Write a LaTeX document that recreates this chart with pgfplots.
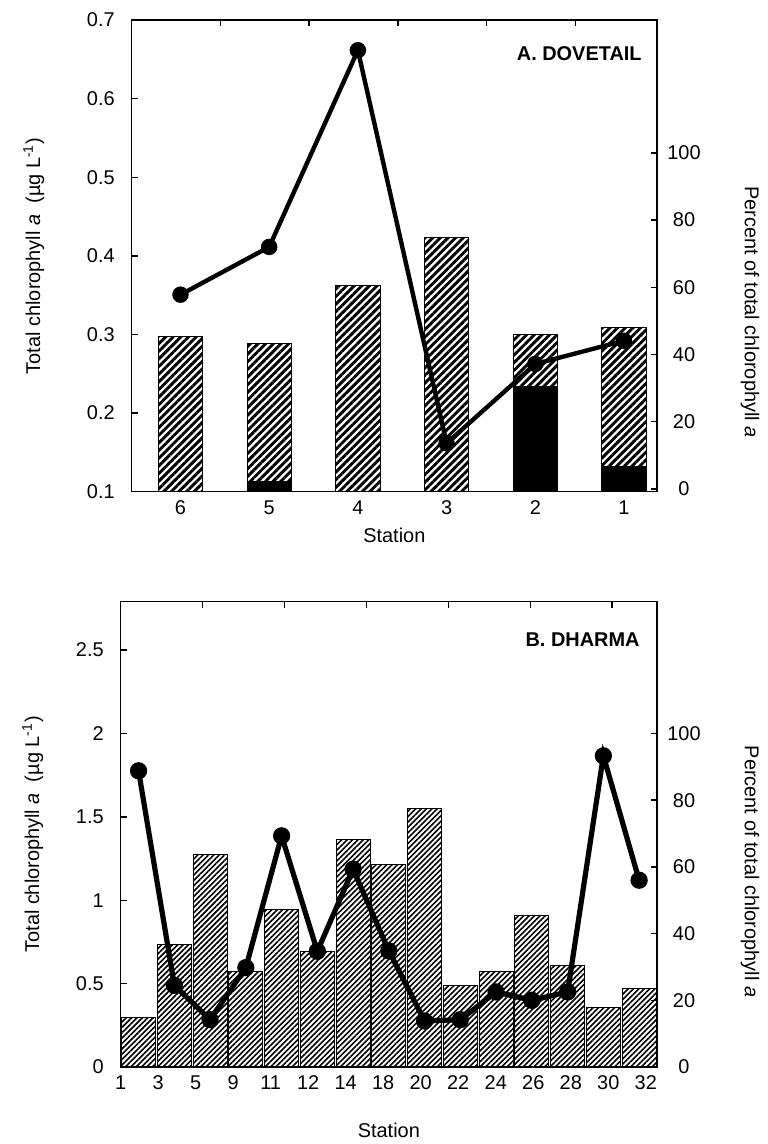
\documentclass[border=0pt]{standalone}
\usepackage{fontspec}
\setmainfont{Liberation Sans}
\usepackage{pgfplots}
\pgfplotsset{compat=1.18}
\usetikzlibrary{patterns.meta}
\pgfplotsset{
  every axis/.append style={
    font=\fontsize{10}{12}\selectfont,
    scale only axis,
    /pgf/number format/assume math mode=true,
    tick align=inside,
    major tick length=3bp,
    axis line style={-, line width=0.7bp},
    every tick/.style={black, line width=0.7bp},
  },
}
\begin{document}
\begin{tikzpicture}
\path[use as bounding box] (0,0) rectangle (384bp,-572bp);

% ---------- Panel A: left axis (bars)
\begin{axis}[
  at={(65.85bp,-245.85bp)}, anchor=south west,
  width=262.65bp, height=235.85bp,
  xmin=0, xmax=5.922, ymin=0.1, ymax=0.7,
  xtick={0.55,1.55,2.55,3.55,4.55,5.55},
  xticklabels={6,5,4,3,2,1},
  xtick style={draw=none},
  xticklabel style={yshift=-0.8bp},
  ytick={0.1,0.2,0.3,0.4,0.5,0.6,0.7},
  ytick pos=left,
  yticklabel style={xshift=-5bp},
  xlabel={Station},
  every axis x label/.style={at={(rel axis cs:0.5,0)}, yshift=-21.6bp, anchor=center},
  ylabel={Total chlorophyll \textit{a}\ \ (µg L\textsuperscript{-1})},
  every axis y label/.style={at={(rel axis cs:0,0.5)}, xshift=-49bp, rotate=90, anchor=center},
]
\addplot[ybar, bar width=0.5, bar shift=0pt, draw=black, line width=0.4bp,
  pattern={Lines[angle=45,distance=2.7bp,line width=1.45bp]}]
  coordinates {(0.55,0.297) (1.55,0.289) (2.55,0.362) (3.55,0.423) (4.55,0.300) (5.55,0.309)};
\addplot[ybar, bar width=0.5, bar shift=0pt, draw=black, fill=black, line width=0.4bp]
  coordinates {(1.55,0.113) (4.55,0.2335) (5.55,0.132)};
\node[anchor=north east, inner sep=0pt, font=\fontsize{10}{12}\selectfont\bfseries]
  at ([xshift=-7.5bp,yshift=-13bp]rel axis cs:1,1) {A. DOVETAIL};
\end{axis}

% ---------- Panel A: right axis (percent line)
\begin{axis}[
  at={(65.85bp,-245.85bp)}, anchor=south west,
  width=262.65bp, height=235.85bp,
  xmin=0, xmax=5.922, ymin=-0.8, ymax=139.5,
  axis y line*=right, axis x line*=top,
  xtick={1,2,3,4,5}, xticklabels={},
  ytick={0,20,40,60,80,100},
  yticklabel style={anchor=center, xshift=13.5bp},
  ylabel={Percent of total chlorophyll \textit{a}},
  every axis y label/.style={at={(rel axis cs:1,0.381)}, xshift=46.5bp, rotate=-90, anchor=center},
]
\addplot[black, line width=2.2bp, mark=*, mark size=3bp, mark options={solid}]
  coordinates {(0.55,57.8) (1.55,72.0) (2.55,130.5) (3.55,13.6) (4.55,37.2) (5.55,44.1)};
\end{axis}

% ---------- Panel B: left axis (bars)
\begin{axis}[
  at={(60.35bp,-533.5bp)}, anchor=south west,
  width=268.15bp, height=232.65bp,
  xmin=0, xmax=15, ymin=0, ymax=2.79,
  xtick={0,1.049,2.098,3.147,4.196,5.245,6.294,7.343,8.392,9.441,10.49,11.539,12.588,13.637,14.686},
  xticklabels={1,3,5,9,11,12,14,18,20,22,24,26,28,30,32},
  xtick style={draw=none},
  xticklabel style={yshift=-0.8bp},
  ytick={0,0.5,1,1.5,2,2.5},
  ytick pos=left,
  yticklabel style={xshift=-5bp},
  xlabel={Station},
  every axis x label/.style={at={(rel axis cs:0.5,0)}, yshift=-31.5bp, anchor=center},
  ylabel={Total chlorophyll \textit{a}\ \ (µg L\textsuperscript{-1})},
  every axis y label/.style={at={(rel axis cs:0,0.5)}, xshift=-44bp, rotate=90, anchor=center},
]
\addplot[ybar, bar width=0.95, bar shift=0pt, draw=black, line width=0.5bp,
  pattern={Lines[angle=45,distance=1.9bp,line width=0.8bp]}]
  coordinates {(0.5,0.296) (1.5,0.734) (2.5,1.274) (3.5,0.570) (4.5,0.946) (5.5,0.694)
               (6.5,1.366) (7.5,1.214) (8.5,1.550) (9.5,0.490) (10.5,0.570) (11.5,0.908)
               (12.5,0.610) (13.5,0.356) (14.5,0.470)};
\node[anchor=north east, inner sep=0pt, font=\fontsize{10}{12}\selectfont\bfseries]
  at ([xshift=-8.5bp,yshift=-15.5bp]rel axis cs:1,1) {B. DHARMA};
\end{axis}

% ---------- Panel B: right axis (percent line)
\begin{axis}[
  at={(60.35bp,-533.5bp)}, anchor=south west,
  width=268.15bp, height=232.65bp,
  xmin=0, xmax=15, ymin=0, ymax=139.5,
  axis y line*=right, axis x line*=top,
  xtick={2.291,4.582,6.873,9.164,11.455,13.746}, xticklabels={},
  ytick={0,20,40,60,80,100},
  yticklabel style={anchor=center, xshift=13.5bp},
  ylabel={Percent of total chlorophyll \textit{a}},
  every axis y label/.style={at={(rel axis cs:1,0.42)}, xshift=46.5bp, rotate=-90, anchor=center},
]
\addplot[black, line width=2.6bp, mark=*, mark size=3bp, mark options={solid}]
  coordinates {(0.5,88.8) (1.5,24.5) (2.5,14.2) (3.5,29.8) (4.5,69.3) (5.5,34.7)
               (6.5,59.3) (7.5,34.8) (8.5,13.8) (9.5,14.2) (10.5,22.5) (11.5,20.0)
               (12.5,22.5) (13.5,93.3) (14.5,56.0)};
\end{axis}
\end{tikzpicture}
\end{document}
